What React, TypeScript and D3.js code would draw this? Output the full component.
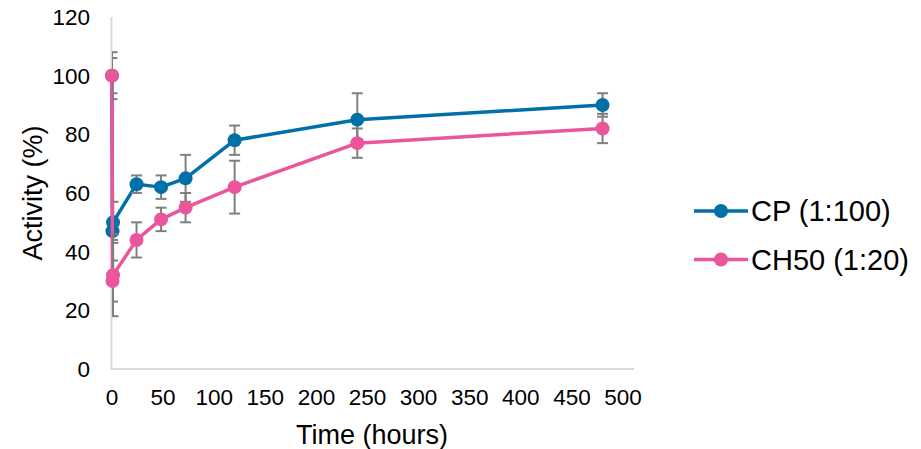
import React from "react";
import * as d3 from "d3";

const hours = [0, 0.5, 1, 24, 48, 72, 120, 240, 480];
const cpValues = [100, 47, 50, 63, 62, 65, 78, 85, 90];
const cpErrors = [6, 3, 7, 3, 4, 8, 5, 9, 4];
const chValues = [100, 30, 32, 44, 51, 55, 62, 77, 82];
const chErrors = [8, 7, 14, 6, 4, 5, 9, 5, 5];
const seriesNames = ["CP (1:100)", "CH50 (1:20)"];
const seriesColors = ["#0070A8", "#EA559B"];
const yTicks = [0, 20, 40, 60, 80, 100, 120];
const xTicks = [0, 50, 100, 150, 200, 250, 300, 350, 400, 450, 500];

const W = 921;
const H = 449;
const FONT = "'Liberation Sans', Arial, sans-serif";

export default function App() {
  const x = d3.scaleLinear().domain([0, 500]).range([112, 623]);
  const y = d3.scaleLinear().domain([0, 120]).range([369, 17]);
  const plotRight = 634;

  const series = [
    { name: seriesNames[0], color: seriesColors[0], values: cpValues, errors: cpErrors },
    { name: seriesNames[1], color: seriesColors[1], values: chValues, errors: chErrors },
  ];

  const line = d3
    .line<number>()
    .x((_, i) => x(hours[i]))
    .y((d) => y(d));

  return (
    <svg
      width={W}
      height={H}
      style={{ position: "absolute", left: 0, top: 0, background: "#fff" }}
      fontFamily={FONT}
    >
      <defs>
        <clipPath id="plotClip">
          <rect x={x(0)} y={0} width={plotRight - x(0)} height={y(0) + 1} />
        </clipPath>
      </defs>
      <rect x={0} y={0} width={W} height={H} fill="#fff" />

      {/* axes lines */}
      <line x1={x(0) - 0.5} x2={x(0) - 0.5} y1={y(120)} y2={y(0)} stroke="#D9D9D9" strokeWidth={2} />
      <line x1={x(0) - 1.5} x2={plotRight} y1={y(0)} y2={y(0)} stroke="#D9D9D9" strokeWidth={2} />

      {/* y tick labels */}
      {yTicks.map((t) => (
        <text key={"y" + t} x={90} y={y(t)} dy="0.35em" textAnchor="end" fontSize={22.5} fill="#000">
          {t}
        </text>
      ))}
      {/* x tick labels */}
      {xTicks.map((t) => (
        <text key={"x" + t} x={x(t)} y={397} dy="0.35em" textAnchor="middle" fontSize={22.5} fill="#000">
          {t}
        </text>
      ))}

      {/* axis titles */}
      <text x={372} y={435} dy="0.35em" textAnchor="middle" fontSize={27} fill="#000">
        Time (hours)
      </text>
      <text
        transform={`translate(33,${(y(0) + y(120)) / 2}) rotate(-90)`}
        dy="0.35em"
        textAnchor="middle"
        fontSize={27}
        fill="#000"
      >
        Activity (%)
      </text>

      {/* series */}
      {series.map((s, si) => (
        <g key={"s" + si}>
          <path d={line(s.values) || ""} fill="none" stroke={s.color} strokeWidth={3.5} strokeLinejoin="round" />
          <g clipPath="url(#plotClip)">
            {s.values.map((v, i) => {
              const cx = x(hours[i]);
              const y1 = y(v + s.errors[i]);
              const y2 = y(v - s.errors[i]);
              return (
                <g key={"e" + i} stroke="#7F7F7F" strokeWidth={2}>
                  <line x1={cx} x2={cx} y1={y1} y2={y2} />
                  <line x1={cx - 5.5} x2={cx + 5.5} y1={y1} y2={y1} />
                  <line x1={cx - 5.5} x2={cx + 5.5} y1={y2} y2={y2} />
                </g>
              );
            })}
          </g>
          {s.values.map((v, i) => (
            <circle key={"m" + i} cx={x(hours[i])} cy={y(v)} r={7} fill={s.color} />
          ))}
        </g>
      ))}

      {/* legend */}
      {series.map((s, si) => {
        const ly = 211 + si * 48.5;
        return (
          <g key={"l" + si}>
            <line x1={694} x2={748} y1={ly} y2={ly} stroke={s.color} strokeWidth={3.5} />
            <circle cx={721} cy={ly} r={7} fill={s.color} />
            <text x={751} y={ly} dy="0.35em" fontSize={29} fill="#000">
              {s.name}
            </text>
          </g>
        );
      })}
    </svg>
  );
}
